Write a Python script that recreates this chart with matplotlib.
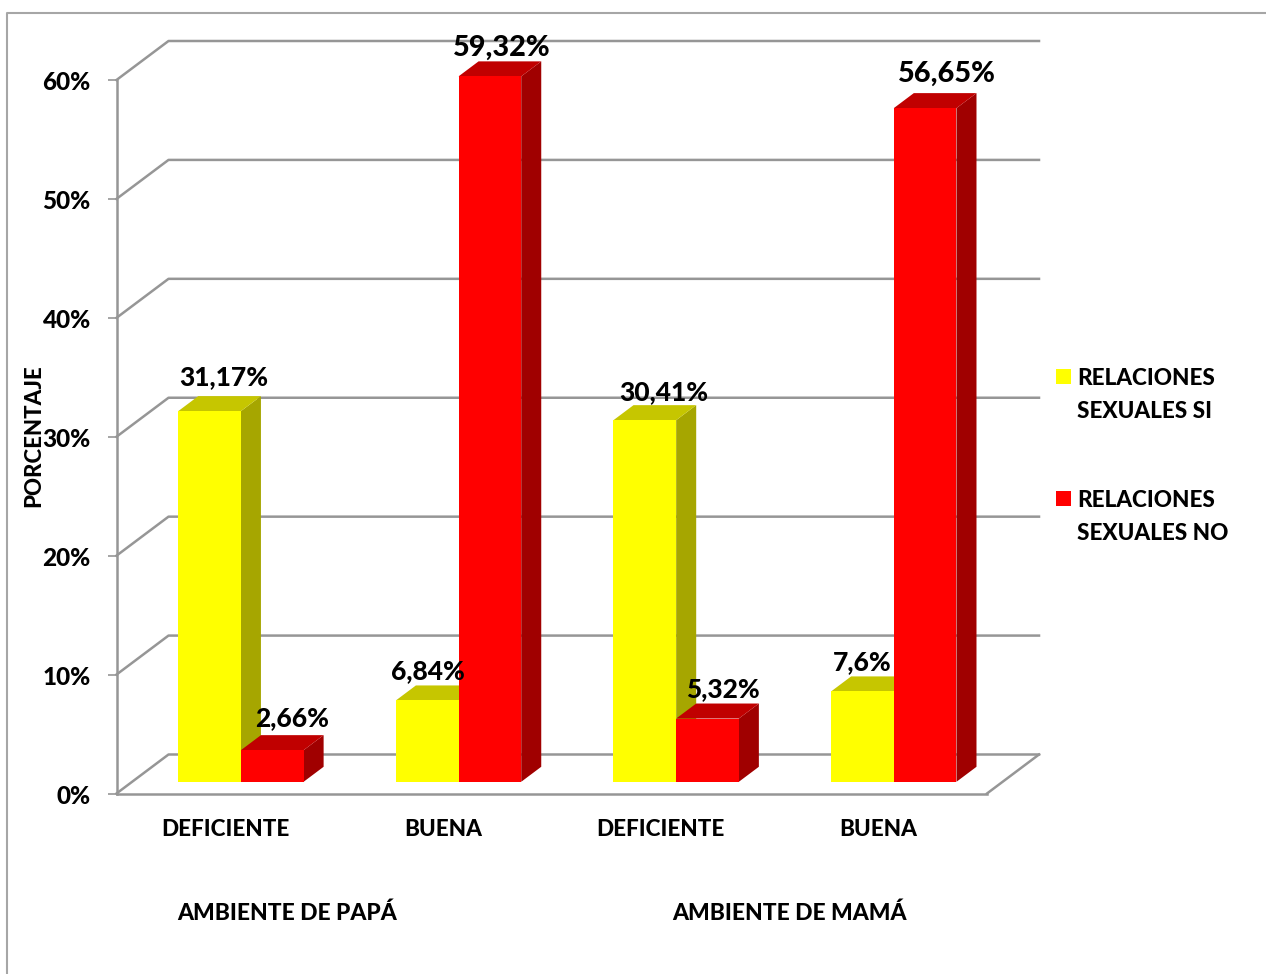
import matplotlib
matplotlib.use("Agg")
import matplotlib.pyplot as plt
from matplotlib.lines import Line2D
from matplotlib.patches import Rectangle
from matplotlib.transforms import ScaledTranslation

plt.rcParams["font.family"] = ["Lato", "DejaVu Sans"]
plt.rcParams["font.weight"] = 900
plt.rcParams["font.size"] = 16.2

categories = ["DEFICIENTE", "BUENA", "DEFICIENTE", "BUENA"]
groups = ["AMBIENTE DE PAPÁ", "AMBIENTE DE MAMÁ"]
si_values = [31.17, 6.84, 30.41, 7.6]
no_values = [2.66, 59.32, 5.32, 56.65]
si_labels = ["31,17%", "6,84%", "30,41%", "7,6%"]
no_labels = ["2,66%", "59,32%", "5,32%", "56,65%"]
legend_labels = ["RELACIONES\nSEXUALES SI", "RELACIONES\nSEXUALES NO"]
y_ticks = [0, 10, 20, 30, 40, 50, 60]
y_tick_labels = ["0%", "10%", "20%", "30%", "40%", "50%", "60%"]

W, H = 1266, 974
GRID = "#969696"

# fake 3D: how far the back wall is shifted from the front plane, in data units
DX, DY = 0.239, 3.28
BAR_W = 0.288
D0, D1 = 0.3, 0.685

fig = plt.figure(figsize=(W / 100, H / 100), dpi=100)
ax = fig.add_axes([116.5 / W, (H - 793.5) / H, 870.5 / W, 713.5 / H])
ax.set_xlim(0, 4)
ax.set_ylim(0, 60)
ax.patch.set_alpha(0)


def px(x, y):
    return x / W, 1 - y / H


# outer chart border
fig.add_artist(Line2D([7 / W, 7 / W, 1], [0, 1 - 13 / H, 1 - 13 / H], color="#a6a6a6", lw=1.5))

# walls and floor
for v in y_ticks:
    ax.plot([0, DX, 4 + DX], [v, v + DY, v + DY], color=GRID, lw=1.8, clip_on=False, zorder=1)
ax.plot([4, 4 + DX], [0, DY], color=GRID, lw=1.8, clip_on=False, zorder=1)


def bar3d(left, value, front, top, side):
    x0 = left + D0 * DX
    x1 = x0 + BAR_W
    y0 = D0 * DY
    y1 = y0 + value
    ox = (D1 - D0) * DX
    oy = (D1 - D0) * DY
    ax.fill([x1, x1 + ox, x1 + ox, x1], [y0, y0 + oy, y1 + oy, y1], color=side, lw=0, clip_on=False, zorder=3)
    ax.fill([x0, x1, x1 + ox, x0 + ox], [y1, y1, y1 + oy, y1 + oy], color=top, lw=0, clip_on=False, zorder=3)
    ax.fill([x0, x1, x1, x0], [y0, y0, y1, y1], color=front, lw=0, clip_on=False, zorder=3)
    return (x0 + x1) / 2, y1


# label shift from the top middle of each front face, in points
si_shift = [(10, 24.5), (0.5, 21), (13.5, 20), (0, 21)]
no_shift = [(14, 23), (8.5, 20.5), (11, 21.5), (15.5, 25)]
si_size = [19, 19, 19, 19]
no_size = [19, 20.8, 19, 20.8]

for i in range(4):
    sx, sy = bar3d(i + 0.5 - BAR_W, si_values[i], "#ffff00", "#c6c600", "#a6a600")
    nx, ny = bar3d(i + 0.5, no_values[i], "#ff0000", "#c00000", "#a00000")
    ax.annotate(si_labels[i], (sx, sy), xytext=si_shift[i], textcoords="offset points",
                ha="center", va="center", annotation_clip=False, zorder=5, fontsize=si_size[i])
    ax.annotate(no_labels[i], (nx, ny), xytext=no_shift[i], textcoords="offset points",
                ha="center", va="center", annotation_clip=False, zorder=5, fontsize=no_size[i])

ax.set_yticks(y_ticks)
ax.set_yticklabels(y_tick_labels)
ax.set_xticks([i + 0.5 for i in range(4)])
ax.set_xticklabels(categories)
ax.tick_params(axis="y", length=6.5, width=1.2, color=GRID, pad=12, labelsize=17.6)
ax.tick_params(axis="x", length=0, pad=18.5)
shift = ScaledTranslation(0, -0.5 / 100, fig.dpi_scale_trans)
for lab in ax.get_yticklabels():
    lab.set_transform(lab.get_transform() + shift)
for s in ["top", "right"]:
    ax.spines[s].set_visible(False)
for s in ["left", "bottom"]:
    ax.spines[s].set_color(GRID)
    ax.spines[s].set_linewidth(1.8)

fig.text(*px(34, 436), "PORCENTAJE", rotation=90, ha="center", va="center", fontsize=16)
fig.text(*px(287.5, 913), groups[0], ha="center", va="center", fontsize=16.5)
fig.text(*px(789.5, 913), groups[1], ha="center", va="center", fontsize=16.5)

# legend, square lines up with the first text line
for label, color, ytop in zip(legend_labels, ["#ffff00", "#ff0000"], [369, 491]):
    fig.add_artist(Rectangle(px(1056, ytop + 15), 15 / W, 15 / H, color=color, lw=0,
                             transform=fig.transFigure))
    fig.text(*px(1077, ytop - 1), label, ha="left", va="top", linespacing=1.68)

fig.savefig("out.png", dpi=100)
